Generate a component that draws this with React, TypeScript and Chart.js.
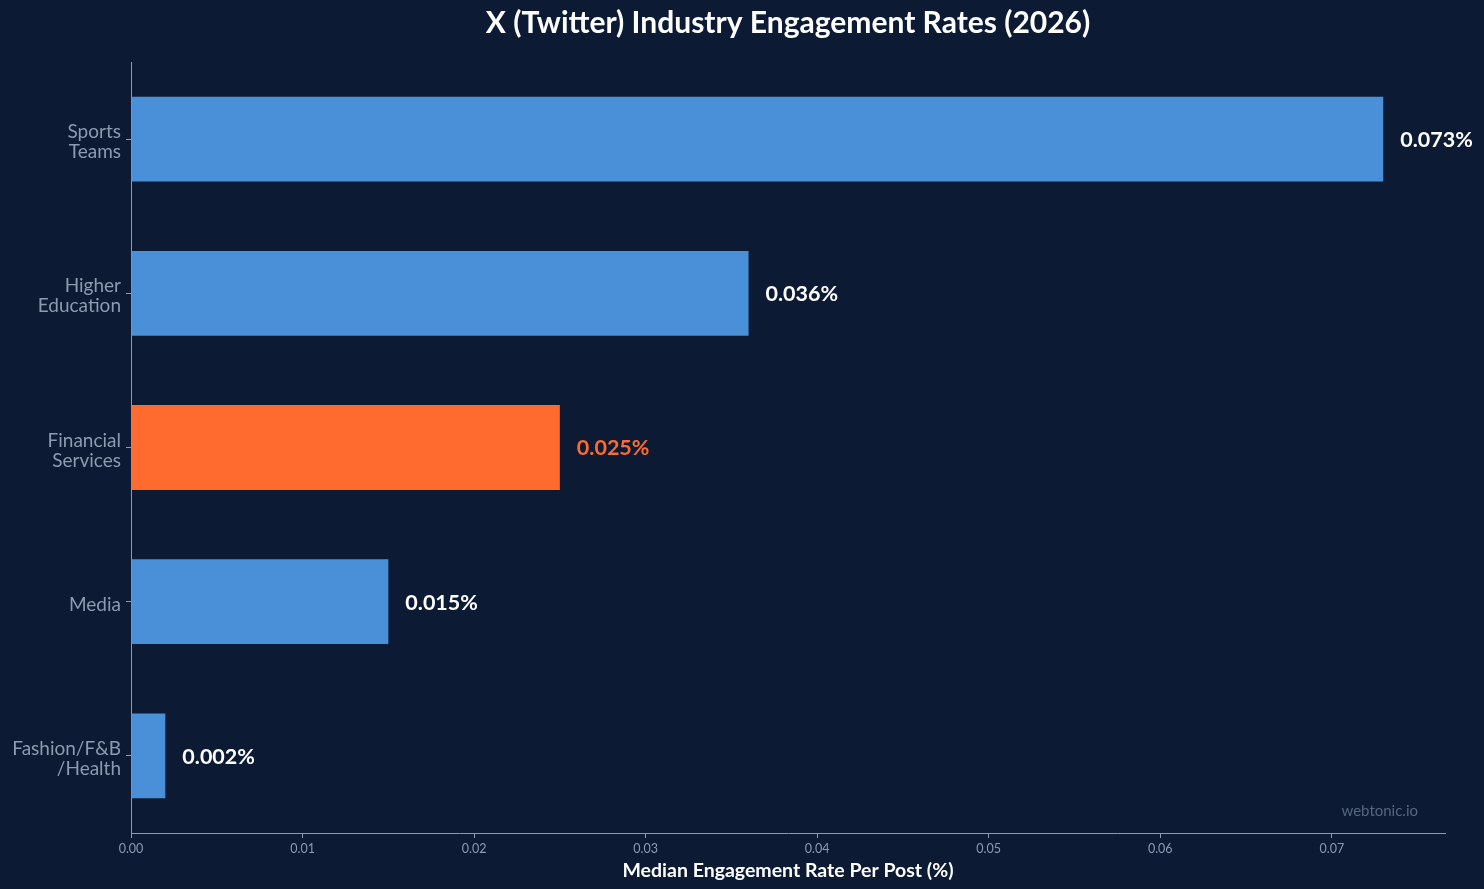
import React, { useEffect, useRef } from "react";
import { Chart, registerables } from "chart.js";

Chart.register(...registerables);

const categories: string[][] = [
  ["Sports", "Teams"],
  ["Higher", "Education"],
  ["Financial", "Services"],
  ["Media"],
  ["Fashion/F&B", "/Health"],
];
const values: number[] = [0.073, 0.036, 0.025, 0.015, 0.002];
const labels: string[] = ["0.073%", "0.036%", "0.025%", "0.015%", "0.002%"];
const highlightIndex = 2;
const xTicks: number[] = [0, 0.01, 0.02, 0.03, 0.04, 0.05, 0.06, 0.07];

const BG = "#0c1b33";
const BLUE = "#4a90d9";
const ORANGE = "#ff6b2f";
const GRAY = "#8b9bb0";
const FONT = "Lato, 'Noto Sans', sans-serif";

export default function App() {
  const ref = useRef<HTMLCanvasElement>(null);
  useEffect(() => {
    document.body.style.margin = "0";
    document.body.style.background = BG;
    const ctx = ref.current!.getContext("2d")!;
    const bgPlugin = {
      id: "bg",
      beforeDraw(chart: any) {
        const c = chart.ctx;
        c.save();
        c.fillStyle = BG;
        c.fillRect(0, 0, chart.width, chart.height);
        c.restore();
      },
    };
    const overlay = {
      id: "overlay",
      afterDatasetsDraw(chart: any) {
        const c = chart.ctx;
        const area = chart.chartArea;
        c.save();
        // title
        c.fillStyle = "#ffffff";
        c.font = `bold 30px ${FONT}`;
        c.textAlign = "center";
        c.textBaseline = "middle";
        c.fillText("X (Twitter) Industry Engagement Rates (2026)", (area.left + area.right) / 2, 23);
        // value labels
        const meta = chart.getDatasetMeta(0);
        c.font = `bold 21.5px ${FONT}`;
        c.textAlign = "left";
        meta.data.forEach((bar: any, i: number) => {
          c.fillStyle = i === highlightIndex ? ORANGE : "#ffffff";
          c.fillText(labels[i], bar.x + 17, bar.y + 1);
        });
        // watermark
        c.font = `15px ${FONT}`;
        c.fillStyle = "#56667f";
        c.textAlign = "right";
        c.textBaseline = "alphabetic";
        c.fillText("webtonic.io", area.right - 27, area.bottom - 17);
        c.restore();
      },
    };
    const chart = new Chart(ctx, {
      type: "bar",
      data: {
        labels: categories,
        datasets: [
          {
            data: values,
            backgroundColor: values.map((_, i) => (i === highlightIndex ? ORANGE : BLUE)),
            barPercentage: 0.55,
            categoryPercentage: 1,
          },
        ],
      },
      options: {
        indexAxis: "y",
        animation: false,
        responsive: false,
        layout: { padding: { top: 62, right: 39, left: 0, bottom: 0 } },
        plugins: {
          legend: { display: false },
          title: { display: false },
          tooltip: { enabled: false },
        },
        scales: {
          x: {
            min: 0,
            max: 0.0766,
            afterBuildTicks(scale: any) {
              scale.ticks = xTicks.map((v) => ({ value: v }));
            },
            afterFit(scale: any) {
              scale.height = 56;
            },
            ticks: {
              color: GRAY,
              font: { family: FONT, size: 12.5 },
              padding: 3,
              callback: (v: any) => Number(v).toFixed(2),
            },
            grid: { drawOnChartArea: false, drawTicks: true, tickLength: 5, color: GRAY },
            border: { color: GRAY, width: 1 },
            title: {
              display: true,
              text: "Median Engagement Rate Per Post (%)",
              color: "#ffffff",
              font: { family: FONT, size: 19.5, weight: "bold" },
              padding: { top: 0, bottom: 7 },
            },
          },
          y: {
            afterFit(scale: any) {
              scale.width = 131;
            },
            ticks: {
              color: GRAY,
              font: { family: FONT, size: 19, lineHeight: 1.05 },
              padding: 5,
              labelOffset: 3,
            },
            grid: { drawOnChartArea: false, drawTicks: true, tickLength: 5, color: GRAY, offset: false },
            border: { color: GRAY, width: 1 },
          },
        },
      },
      plugins: [bgPlugin, overlay],
    });
    return () => chart.destroy();
  }, []);
  return <canvas ref={ref} width={1484} height={889} style={{ display: "block" }} />;
}
